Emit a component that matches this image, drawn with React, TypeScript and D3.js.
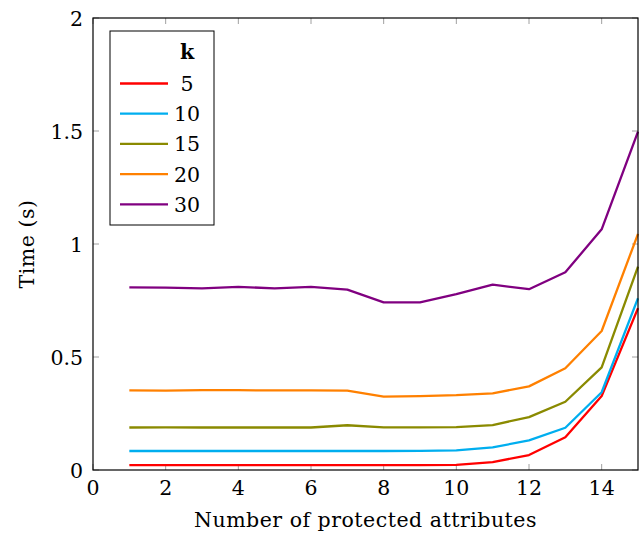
import React from "react";
import * as d3 from "d3";

const xs = [1, 2, 3, 4, 5, 6, 7, 8, 9, 10, 11, 12, 13, 14, 15];
const k5 = [0.022, 0.022, 0.022, 0.022, 0.022, 0.022, 0.022, 0.022, 0.022, 0.023, 0.035, 0.066, 0.145, 0.327, 0.716];
const k10 = [0.084, 0.084, 0.084, 0.084, 0.084, 0.084, 0.084, 0.084, 0.085, 0.087, 0.1, 0.131, 0.187, 0.344, 0.76];
const k15 = [0.188, 0.189, 0.188, 0.188, 0.188, 0.188, 0.198, 0.189, 0.189, 0.19, 0.199, 0.234, 0.302, 0.454, 0.9];
const k20 = [0.352, 0.351, 0.353, 0.353, 0.352, 0.352, 0.351, 0.325, 0.327, 0.331, 0.339, 0.37, 0.45, 0.615, 1.045];
const k30 = [0.808, 0.807, 0.804, 0.81, 0.804, 0.81, 0.798, 0.742, 0.742, 0.778, 0.82, 0.8, 0.875, 1.065, 1.497];

const seriesNames = ["5", "10", "15", "20", "30"];
const seriesValues = [k5, k10, k15, k20, k30];
const seriesColors = ["#ff0000", "#00aeef", "#8a8a00", "#ff8000", "#800080"];

const xTicks = [0, 2, 4, 6, 8, 10, 12, 14];
const yTicks = [0, 0.5, 1, 1.5, 2];

const W = 639;
const H = 534;
const L = 93, R = 638, T = 18, B = 470;
const font = "DejaVu Serif";
const fs = 20.5;

const txt = { fontFamily: font, fontSize: fs, fill: "#000" } as React.CSSProperties;

export default function App() {
  const x = d3.scaleLinear().domain([0, 15]).range([L, R]);
  const y = d3.scaleLinear().domain([0, 2]).range([B, T]);
  const line = d3.line<number>().x((_, i) => x(xs[i])).y((d) => y(d));
  const tickLen = 6;
  const tickColor = "#a0a0a0";

  return (
    <svg width={W} height={H} style={{ position: "absolute", left: 0, top: 0 }}>
      <rect x={0} y={0} width={W} height={H} fill="#fff" />
      {xTicks.map((t) => (
        <g key={"xt" + t}>
          <line x1={x(t)} x2={x(t)} y1={B} y2={B - tickLen} stroke={tickColor} strokeWidth={1} />
          <line x1={x(t)} x2={x(t)} y1={T} y2={T + tickLen} stroke={tickColor} strokeWidth={1} />
          <text x={x(t)} y={495} style={txt} textAnchor="middle">{t}</text>
        </g>
      ))}
      {yTicks.map((t) => (
        <g key={"yt" + t}>
          <line x1={L} x2={L + tickLen} y1={y(t)} y2={y(t)} stroke={tickColor} strokeWidth={1} />
          <line x1={R} x2={R - tickLen} y1={y(t)} y2={y(t)} stroke={tickColor} strokeWidth={1} />
          <text x={83} y={y(t) + 7.5} style={txt} textAnchor="end">{t}</text>
        </g>
      ))}
      <g>
        {seriesValues.map((vals, i) => (
          <path key={i} d={line(vals) || ""} fill="none" stroke={seriesColors[i]} strokeWidth={2.3} strokeLinejoin="round" />
        ))}
      </g>
      <rect x={L} y={T} width={R - L} height={B - T} fill="none" stroke="#000" strokeWidth={1.2} />
      <g>
        <rect x={110} y={31} width={104} height={194} fill="#fff" stroke="#000" strokeWidth={1} />
        <text x={187} y={59} style={{ ...txt, fontWeight: "bold" }} textAnchor="middle">k</text>
        {seriesNames.map((n, i) => {
          const ly = 83.5 + i * 30.2;
          return (
            <g key={n}>
              <line x1={120} x2={168} y1={ly} y2={ly} stroke={seriesColors[i]} strokeWidth={2.3} />
              <text x={187} y={ly + 7.5} style={txt} textAnchor="middle">{n}</text>
            </g>
          );
        })}
      </g>
      <text x={(L + R) / 2} y={527} style={{ ...txt, letterSpacing: 0.5 }} textAnchor="middle">Number of protected attributes</text>
      <text transform={`translate(34,${(T + B) / 2}) rotate(-90)`} style={{ ...txt, letterSpacing: 0.5 }} textAnchor="middle">Time (s)</text>
    </svg>
  );
}
